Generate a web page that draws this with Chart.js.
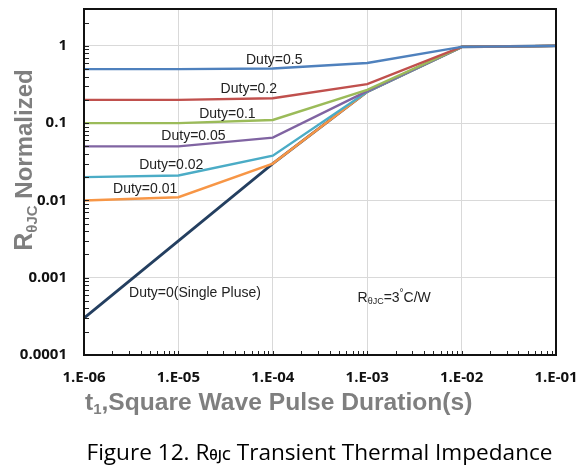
<!DOCTYPE html>
<html>
<head>
<meta charset="utf-8">
<script src="https://cdn.jsdelivr.net/npm/chart.js@4.4.1/dist/chart.umd.min.js"></script>
<style>
  body { margin: 0; background: #fff; }
  canvas { display: block; }
</style>
</head>
<body>
<canvas id="zthChart" width="584" height="470"></canvas>
<script>
// pulse duration (s) for each point
const pulseTimes = [1e-6, 1e-5, 1e-4, 1e-3, 1e-2, 1e-1];

// normalized RthJC
const duty05 = [0.5, 0.5, 0.51, 0.6, 0.97, 1.0];
const duty02 = [0.2, 0.2, 0.21, 0.32, 0.97, 1.0];
const duty01 = [0.1, 0.1, 0.11, 0.27, 0.97, 1.0];
const duty005 = [0.05, 0.05, 0.065, 0.26, 0.97, 1.0];
const duty002 = [0.02, 0.021, 0.038, 0.255, 0.97, 1.0];
const duty001 = [0.01, 0.011, 0.03, 0.255, 0.97, 1.0];
const dutySingle = [0.0003, 0.003, 0.03, 0.255, 0.97, 1.0];

const seriesNames = ['Duty=0.5', 'Duty=0.2', 'Duty=0.1', 'Duty=0.05', 'Duty=0.02', 'Duty=0.01', 'Duty=0(Single Pluse)'];

const xTickValues = [1e-6, 1e-5, 1e-4, 1e-3, 1e-2, 1e-1];
const xTickLabels = ['1.E-06', '1.E-05', '1.E-04', '1.E-03', '1.E-02', '1.E-01'];
const yTickValues = [1e-4, 1e-3, 1e-2, 1e-1, 1];
const yTickLabels = ['0.0001', '0.001', '0.01', '0.1', '1'];

// where the curve labels sit (data coords, left edge / middle)
const labelSpots = [
    [5.2e-5, 0.66], [2.8e-5, 0.277], [1.66e-5, 0.131], [6.6e-6, 0.0678],
    [3.84e-6, 0.0285], [2.03e-6, 0.0139], [3.0e-6, 0.00064]
];

const colors = ['#4F81BD', '#C0504D', '#9BBB59', '#8064A2', '#4BACC6', '#F79646', '#243F60'];
const allSeries = [duty05, duty02, duty01, duty005, duty002, duty001, dutySingle];

const datasets = allSeries.map(function(vals, i) {
    return {
        label: seriesNames[i],
        data: vals.map(function(v, j) { return { x: pulseTimes[j], y: v }; }),
        borderColor: colors[i],
        borderWidth: i === 6 ? 2.8 : 2.4,
        pointRadius: 0,
        tension: 0,
        fill: false
    };
});

// draw text pieces one after another (for subscripts)
function drawRuns(ctx, x, y, runs) {
    runs.forEach(function(r) {
        ctx.font = r.font;
        ctx.fillText(r.text, x, y + (r.dy || 0));
        x += ctx.measureText(r.text).width;
    });
    return x;
}
function runsWidth(ctx, runs) {
    let w = 0;
    runs.forEach(function(r) { ctx.font = r.font; w += ctx.measureText(r.text).width; });
    return w;
}

const decorPlugin = {
    id: 'decor',
    afterDatasetsDraw: function(chart) {
        const ctx = chart.ctx;
        const area = chart.chartArea;
        const xs = chart.scales.x;
        const ys = chart.scales.y;
        ctx.save();

        // minor tick marks, pointing inside
        ctx.strokeStyle = '#222';
        ctx.lineWidth = 1;
        ctx.beginPath();
        for (let d = -6; d < -1; d++) {
            for (let m = 1; m <= 9; m++) {
                const px = Math.round(xs.getPixelForValue(m * Math.pow(10, d))) + 0.5;
                ctx.moveTo(px, area.bottom);
                ctx.lineTo(px, area.bottom - 4);
            }
        }
        for (let d = -4; d <= 0; d++) {
            for (let m = 1; m <= 9; m++) {
                const v = m * Math.pow(10, d);
                if (v > ys.max) break;
                const py = Math.round(ys.getPixelForValue(v)) + 0.5;
                ctx.moveTo(area.left, py);
                ctx.lineTo(area.left + 5, py);
            }
        }
        ctx.stroke();

        // plot frame
        ctx.strokeStyle = '#111';
        ctx.lineWidth = 2;
        ctx.strokeRect(area.left, area.top, area.right - area.left, area.bottom - area.top);

        // curve labels
        ctx.fillStyle = '#222';
        ctx.textBaseline = 'middle';
        ctx.textAlign = 'left';
        ctx.font = '14px "Liberation Sans", Arial, sans-serif';
        labelSpots.forEach(function(s, i) {
            ctx.fillText(seriesNames[i], xs.getPixelForValue(s[0]), ys.getPixelForValue(s[1]));
        });

        // RthJC note
        const nx = xs.getPixelForValue(7.9e-4);
        const ny = ys.getPixelForValue(0.00055);
        drawRuns(ctx, nx, ny, [
            { text: 'R', font: '14px "Liberation Sans", Arial, sans-serif' },
            { text: '\u03B8JC', font: '9px "Liberation Sans", Arial, sans-serif', dy: 4 },
            { text: '=3', font: '14px "Liberation Sans", Arial, sans-serif' },
            { text: '\u00B0', font: '10px "Liberation Sans", Arial, sans-serif', dy: -5 },
            { text: 'C/W', font: '14px "Liberation Sans", Arial, sans-serif' }
        ]);

        // x axis title
        ctx.fillStyle = '#7F7F7F';
        ctx.textBaseline = 'alphabetic';
        drawRuns(ctx, 85, 410, [
            { text: 't', font: 'bold 24.6px "Liberation Sans", Arial, sans-serif' },
            { text: '1', font: 'bold 15px "Liberation Sans", Arial, sans-serif', dy: 4 },
            { text: ',Square Wave Pulse Duration(s)', font: 'bold 24.6px "Liberation Sans", Arial, sans-serif' }
        ]);

        // y axis title (rotated)
        const yRuns = [
            { text: 'R', font: 'bold 25px "Liberation Sans", Arial, sans-serif' },
            { text: '\u03B8JC', font: 'bold 15px "Liberation Sans", Arial, sans-serif', dy: 5 },
            { text: ' Normalized', font: 'bold 24px "Liberation Sans", Arial, sans-serif' }
        ];
        ctx.save();
        ctx.translate(32, 160);
        ctx.rotate(-Math.PI / 2);
        drawRuns(ctx, -runsWidth(ctx, yRuns) / 2, 0, yRuns);
        ctx.restore();

        // caption
        ctx.fillStyle = '#000';
        const capRuns = [
            { text: 'Figure 12. R', font: '22.6px "Open Sans", "Noto Sans", sans-serif' },
            { text: '\u03B8JC', font: '600 14px "Open Sans", "Noto Sans", sans-serif' },
            { text: ' Transient Thermal Impedance', font: '22.6px "Open Sans", "Noto Sans", sans-serif' }
        ];
        drawRuns(ctx, 319.5 - runsWidth(ctx, capRuns) / 2, 460, capRuns);

        ctx.restore();
    }
};

new Chart(document.getElementById('zthChart'), {
    type: 'line',
    data: { datasets: datasets },
    options: {
        responsive: false,
        animation: false,
        layout: { padding: { top: 9, right: 28, left: 0, bottom: 0 } },
        plugins: {
            legend: { display: false },
            tooltip: { enabled: false }
        },
        scales: {
            x: {
                type: 'logarithmic',
                min: 1e-6,
                max: 1e-1,
                afterBuildTicks: function(scale) {
                    scale.ticks = xTickValues.map(function(v) { return { value: v }; });
                },
                afterFit: function(scale) {
                    scale.height = 115;
                    scale.paddingLeft = 0;
                    scale.paddingRight = 0;
                },
                grid: { color: '#D9D9D9', lineWidth: 1, drawTicks: false },
                border: { display: false },
                ticks: {
                    autoSkip: false,
                    maxRotation: 0,
                    padding: 14,
                    color: '#111',
                    font: { family: '"Open Sans", "Noto Sans", sans-serif', size: 15, weight: 'bold' },
                    callback: function(v, i) { return xTickLabels[i]; }
                }
            },
            y: {
                type: 'logarithmic',
                min: 1e-4,
                max: 3,
                afterBuildTicks: function(scale) {
                    scale.ticks = yTickValues.map(function(v) { return { value: v }; });
                },
                afterFit: function(scale) {
                    scale.width = 84;
                    scale.paddingTop = 0;
                    scale.paddingBottom = 0;
                },
                grid: { color: '#D9D9D9', lineWidth: 1, drawTicks: false },
                border: { display: false },
                ticks: {
                    autoSkip: false,
                    padding: 17,
                    color: '#111',
                    font: { family: '"Open Sans", "Noto Sans", sans-serif', size: 15, weight: 'bold' },
                    callback: function(v, i) { return yTickLabels[i]; }
                }
            }
        }
    },
    plugins: [decorPlugin]
});
</script>
</body>
</html>
